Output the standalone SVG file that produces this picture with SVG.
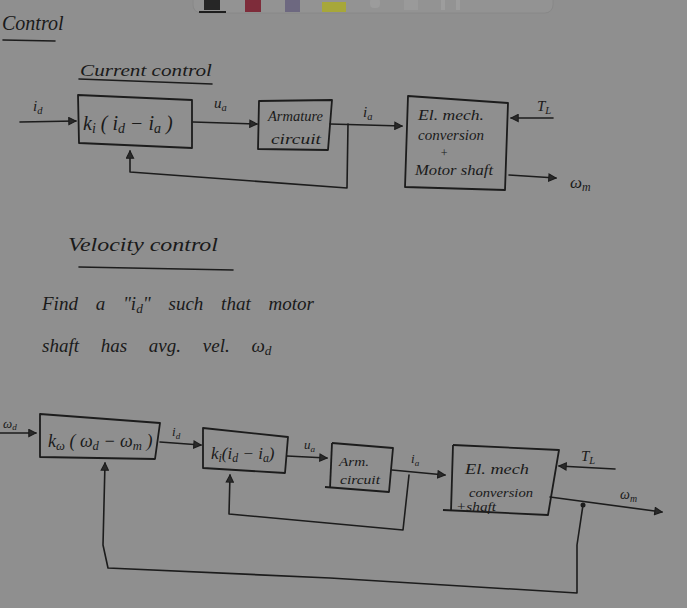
<svg xmlns="http://www.w3.org/2000/svg" width="687" height="608" viewBox="0 0 687 608">
<defs>
<style>
.ln{fill:none;stroke:#1c1c1c;stroke-width:1.6;stroke-linecap:round;stroke-linejoin:round}
.bx{fill:none;stroke:#1c1c1c;stroke-width:1.8;stroke-linejoin:round}
.t{font-family:"Liberation Serif","DejaVu Serif",serif;font-style:italic;fill:#1a1a1a}
.s{font-size:0.7em}
</style>
<marker id="ah" viewBox="0 0 10 10" refX="9" refY="5" markerWidth="9" markerHeight="9" markerUnits="userSpaceOnUse" orient="auto">
<path d="M1,1 L9,5 L1,9 Z" fill="#2a2a2a" stroke="#1c1c1c" stroke-width="1.2"/>
</marker>
</defs>
<rect width="687" height="608" fill="#8f8f8f"/>
<g id="toolbar">
<rect x="193" y="-16" width="360" height="29" rx="8" fill="#939393" stroke="#888"/>
<rect x="204" y="-2" width="16" height="12" fill="#262626"/><path d="M199,12 L226,12" stroke="#1e1e1e" stroke-width="2"/>
<rect x="245" y="-2" width="16" height="14" fill="#7e2c3a"/>
<rect x="285" y="0" width="15" height="12" fill="#6d6880"/>
<rect x="322" y="2" width="24" height="10" fill="#a7a73a"/>
<rect x="370" y="-2" width="10" height="10" rx="4" fill="#9c9c9c"/>
<rect x="404" y="-2" width="14" height="12" fill="#9a9a9a"/>
<rect x="441" y="-2" width="4" height="12" fill="#9d9d9d"/><rect x="456" y="-2" width="4" height="12" fill="#9d9d9d"/>
</g>
<g id="headings">
<text class="t" x="2" y="30" font-size="20">Control</text>
<path class="ln" d="M3,40 L55,41"/>
<text class="t" x="80" y="76" font-size="17" textLength="132" lengthAdjust="spacingAndGlyphs">Current control</text>
<path class="ln" d="M79,79 L212,84" stroke-width="1.8"/>
<text class="t" x="68" y="251" font-size="18" textLength="150" lengthAdjust="spacingAndGlyphs">Velocity control</text>
<path class="ln" d="M79,267 L233,270" stroke-width="2"/>
<text class="t" x="42" y="310" font-size="19" word-spacing="13">Find a "i<tspan class="s" dy="3">d</tspan><tspan dy="-3">" such that motor</tspan></text>
<text class="t" x="42" y="352" font-size="19" word-spacing="17">shaft has avg. vel. ω<tspan class="s" dy="3">d</tspan></text>
</g>
<g id="connectors">
<path class="ln" d="M20,122 L76,121" marker-end="url(#ah)"/>
<path class="ln" d="M193,122 L257,124" marker-end="url(#ah)"/>
<path class="ln" d="M330,124 L402,126" marker-end="url(#ah)"/>
<path class="ln" d="M348,124 L347,188 L130,172 L130,151" marker-end="url(#ah)"/>
<path class="ln" d="M553,118 L511,118" marker-end="url(#ah)"/>
<path class="ln" d="M509,175 L556,178" marker-end="url(#ah)"/>
<path class="ln" d="M0,433 L36,433" marker-end="url(#ah)"/>
<path class="ln" d="M160,442 L201,445" marker-end="url(#ah)"/>
<path class="ln" d="M287,456 L327,458" marker-end="url(#ah)"/>
<path class="ln" d="M392,470 L445,475" marker-end="url(#ah)"/>
<path class="ln" d="M409,475 L403,530 L229,514 L230,475" marker-end="url(#ah)"/>
<path class="ln" d="M615,469 L559,466" marker-end="url(#ah)"/>
<path class="ln" d="M550,497 L662,512" marker-end="url(#ah)"/>
<path class="ln" d="M583,505 L577,545 L577,593 L330,578 L108,568 L103,545 L105,463" marker-end="url(#ah)"/>
<circle cx="583" cy="505" r="2.5" fill="#1c1c1c"/>
</g>
<g id="labels">
<text class="t" x="33" y="111" font-size="15">i<tspan class="s" dy="3">d</tspan></text>
<text class="t" x="214" y="108" font-size="15">u<tspan class="s" dy="3">a</tspan></text>
<text class="t" x="363" y="117" font-size="15">i<tspan class="s" dy="3">a</tspan></text>
<text class="t" x="537" y="111" font-size="15">T<tspan class="s" dy="3">L</tspan></text>
<text class="t" x="570" y="188" font-size="17">ω<tspan class="s" dy="3">m</tspan></text>
<text class="t" x="3" y="428" font-size="13">ω<tspan class="s" dy="2">d</tspan></text>
<text class="t" x="172" y="436" font-size="13">i<tspan class="s" dy="3">d</tspan></text>
<text class="t" x="304" y="449" font-size="13">u<tspan class="s" dy="3">a</tspan></text>
<text class="t" x="411" y="463" font-size="13">i<tspan class="s" dy="3">a</tspan></text>
<text class="t" x="581" y="461" font-size="15">T<tspan class="s" dy="3">L</tspan></text>
<text class="t" x="620" y="499" font-size="14">ω<tspan class="s" dy="3">m</tspan></text>
</g>
<g id="current-controller">
<path class="bx" d="M78,95 L192,100 L192,148 L79,143 Z"/>
<text class="t" x="83" y="130" font-size="20">k<tspan class="s" dy="3">i</tspan><tspan dy="-3"> ( i</tspan><tspan class="s" dy="3">d</tspan><tspan dy="-3"> − i</tspan><tspan class="s" dy="3">a</tspan><tspan dy="-3"> )</tspan></text>
</g>
<g id="armature-circuit">
<path class="bx" d="M259,101 L332,100 L328,150 L258,149 Z"/>
<text class="t" x="268" y="121" font-size="14" textLength="55" lengthAdjust="spacingAndGlyphs">Armature</text>
<text class="t" x="271" y="144" font-size="14" textLength="50" lengthAdjust="spacingAndGlyphs">circuit</text>
</g>
<g id="em-conversion">
<path class="bx" d="M408,96 L508,103 L505,190 L405,187 Z"/>
<text class="t" x="418" y="120" font-size="14" textLength="66" lengthAdjust="spacingAndGlyphs">El. mech.</text>
<text class="t" x="418" y="140" font-size="14" textLength="66" lengthAdjust="spacingAndGlyphs">conversion</text>
<text class="t" x="440" y="157" font-size="12">+</text>
<text class="t" x="415" y="175" font-size="14" textLength="78" lengthAdjust="spacingAndGlyphs">Motor shaft</text>
</g>
<g id="velocity-controller">
<path class="bx" d="M40,414 L160,423 L155,459 L40,457 Z"/>
<text class="t" x="48" y="447" font-size="18">k<tspan class="s" dy="3">ω</tspan><tspan dy="-3"> ( ω</tspan><tspan class="s" dy="3">d</tspan><tspan dy="-3"> − ω</tspan><tspan class="s" dy="3">m</tspan><tspan dy="-3"> )</tspan></text>
</g>
<g id="current-controller-2">
<path class="bx" d="M203,428 L288,437 L285,473 L203,468 Z"/>
<text class="t" x="211" y="459" font-size="17">k<tspan class="s" dy="3">i</tspan><tspan dy="-3">(i</tspan><tspan class="s" dy="3">d</tspan><tspan dy="-3"> − i</tspan><tspan class="s" dy="3">a</tspan><tspan dy="-3">)</tspan></text>
</g>
<g id="armature-circuit-2">
<path class="bx" d="M332,443 L393,448 L389,492 L325,487"/>
<path class="bx" d="M332,443 L330,488"/>
<text class="t" x="339" y="466" font-size="13" textLength="30" lengthAdjust="spacingAndGlyphs">Arm.</text>
<text class="t" x="340" y="484" font-size="13" textLength="40" lengthAdjust="spacingAndGlyphs">circuit</text>
</g>
<g id="em-conversion-2">
<path class="bx" d="M453,445 L559,450 L548,515 L443,510"/>
<path class="bx" d="M453,445 L451,511"/>
<text class="t" x="465" y="474" font-size="15" textLength="64" lengthAdjust="spacingAndGlyphs">El. mech</text>
<text class="t" x="469" y="497" font-size="13" textLength="64" lengthAdjust="spacingAndGlyphs">conversion</text>
<text class="t" x="456" y="511" font-size="12" textLength="40" lengthAdjust="spacingAndGlyphs">+shaft</text>
</g>
</svg>
